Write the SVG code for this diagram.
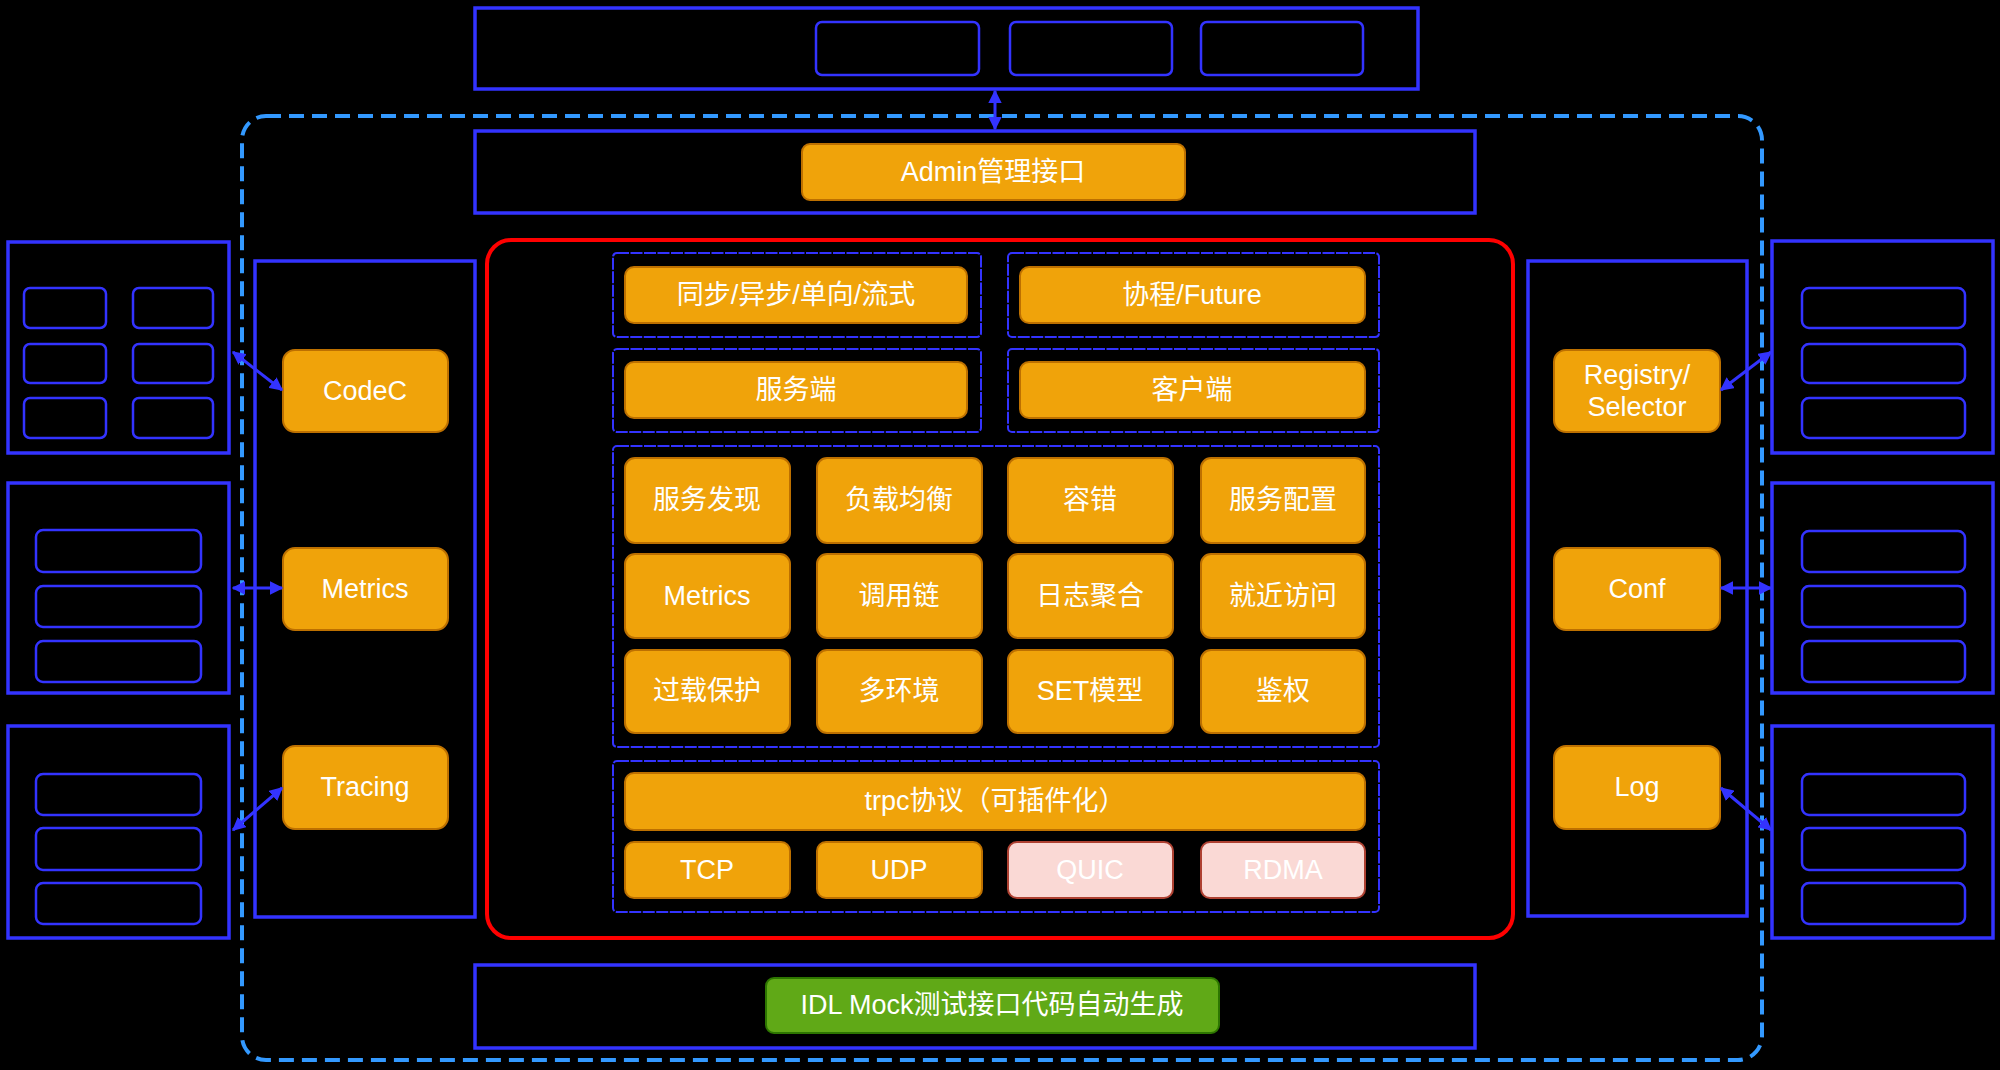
<svg xmlns="http://www.w3.org/2000/svg" width="2000" height="1070" viewBox="0 0 2000 1070">
<style>
.bg{fill:#000}
.blue{fill:none;stroke:#3333ff;stroke-width:3.5}
.inner{fill:none;stroke:#3333ff;stroke-width:2.5}
.grp{fill:none;stroke:#3333ff;stroke-width:2;stroke-dasharray:12 1.5}
.outer{fill:none;stroke:#3399ff;stroke-width:4;stroke-dasharray:15 8}
.red{fill:none;stroke:#ff0000;stroke-width:4}
.or{fill:#f0a30a;stroke:#bd7000;stroke-width:2}
.pk{fill:#fad9d5;stroke:#ae4132;stroke-width:2}
.gr{fill:#60a917;stroke:#2d7600;stroke-width:2}
.t{font-family:"Liberation Sans","Noto Sans CJK SC",sans-serif;font-size:27px;fill:#fff;text-anchor:middle;dominant-baseline:central}
.conn{stroke:#3333ff;stroke-width:3;fill:none;marker-start:url(#ah);marker-end:url(#ah)}
</style>
<defs>
<marker id="ah" viewBox="0 0 10 10" refX="9" refY="5" markerWidth="4.5" markerHeight="4.5" orient="auto-start-reverse" markerUnits="strokeWidth">
<path d="M0,0 L10,5 L0,10 z" fill="#3333ff"/>
</marker>
</defs>
<rect class="bg" x="0" y="0" width="2000" height="1070"/>

<g id="outer-boundary">
<rect class="outer" x="242" y="116" width="1520" height="944" rx="24"/>
</g>

<g id="top-panel">
<rect class="blue" x="475" y="8" width="943" height="81"/>
<rect class="inner" x="816" y="22" width="163" height="53" rx="6"/>
<rect class="inner" x="1010" y="22" width="162" height="53" rx="6"/>
<rect class="inner" x="1201" y="22" width="162" height="53" rx="6"/>
</g>

<g id="admin-row">
<rect class="blue" x="475" y="131" width="1000" height="82"/>
<rect class="or" x="802" y="144" width="383" height="56" rx="8"/>
<text class="t" x="993" y="172">Admin管理接口</text>
</g>

<g id="left-column">
<rect class="blue" x="255" y="261" width="220" height="656"/>
</g>
<g id="node-codec"><rect class="or" x="283" y="350" width="165" height="82" rx="12"/><text class="t" x="365" y="391">CodeC</text></g>
<g id="node-metrics"><rect class="or" x="283" y="548" width="165" height="82" rx="12"/><text class="t" x="365" y="589">Metrics</text></g>
<g id="node-tracing"><rect class="or" x="283" y="746" width="165" height="83" rx="12"/><text class="t" x="365" y="787">Tracing</text></g>

<g id="right-column">
<rect class="blue" x="1528" y="261" width="219" height="655"/>
</g>
<g id="node-registry"><rect class="or" x="1554" y="350" width="166" height="82" rx="12"/><text class="t" x="1637" y="375">Registry/</text><text class="t" x="1637" y="407">Selector</text></g>
<g id="node-conf"><rect class="or" x="1554" y="548" width="166" height="82" rx="12"/><text class="t" x="1637" y="589">Conf</text></g>
<g id="node-log"><rect class="or" x="1554" y="746" width="166" height="83" rx="12"/><text class="t" x="1637" y="787">Log</text></g>

<g id="left-box-1">
<rect class="blue" x="8" y="242" width="221" height="211"/>
<rect class="inner" x="24" y="288" width="82" height="40" rx="6"/>
<rect class="inner" x="133" y="288" width="80" height="40" rx="6"/>
<rect class="inner" x="24" y="344" width="82" height="39" rx="6"/>
<rect class="inner" x="133" y="344" width="80" height="39" rx="6"/>
<rect class="inner" x="24" y="398" width="82" height="40" rx="6"/>
<rect class="inner" x="133" y="398" width="80" height="40" rx="6"/>
</g>
<g id="left-box-2">
<rect class="blue" x="8" y="483" width="221" height="210"/>
<rect class="inner" x="36" y="530" width="165" height="42" rx="7"/>
<rect class="inner" x="36" y="586" width="165" height="41" rx="7"/>
<rect class="inner" x="36" y="641" width="165" height="41" rx="7"/>
</g>
<g id="left-box-3">
<rect class="blue" x="8" y="726" width="221" height="212"/>
<rect class="inner" x="36" y="774" width="165" height="41" rx="7"/>
<rect class="inner" x="36" y="828" width="165" height="42" rx="7"/>
<rect class="inner" x="36" y="883" width="165" height="41" rx="7"/>
</g>

<g id="right-box-1">
<rect class="blue" x="1772" y="241" width="221" height="212"/>
<rect class="inner" x="1802" y="288" width="163" height="40" rx="7"/>
<rect class="inner" x="1802" y="344" width="163" height="39" rx="7"/>
<rect class="inner" x="1802" y="398" width="163" height="40" rx="7"/>
</g>
<g id="right-box-2">
<rect class="blue" x="1772" y="483" width="221" height="210"/>
<rect class="inner" x="1802" y="531" width="163" height="41" rx="7"/>
<rect class="inner" x="1802" y="586" width="163" height="41" rx="7"/>
<rect class="inner" x="1802" y="641" width="163" height="41" rx="7"/>
</g>
<g id="right-box-3">
<rect class="blue" x="1772" y="726" width="221" height="212"/>
<rect class="inner" x="1802" y="774" width="163" height="41" rx="7"/>
<rect class="inner" x="1802" y="828" width="163" height="42" rx="7"/>
<rect class="inner" x="1802" y="883" width="163" height="41" rx="7"/>
</g>

<g id="core">
<rect class="red" x="487" y="240" width="1026" height="698" rx="24"/>
<rect class="grp" x="613" y="253" width="368" height="84" rx="4"/>
<rect class="grp" x="1008" y="253" width="371" height="84" rx="4"/>
<rect class="grp" x="613" y="349" width="368" height="83" rx="4"/>
<rect class="grp" x="1008" y="349" width="371" height="83" rx="4"/>
<rect class="grp" x="613" y="446" width="766" height="301" rx="4"/>
<rect class="grp" x="613" y="761" width="766" height="151" rx="4"/>
</g>

<g id="node-sync"><rect class="or" x="625" y="267" width="342" height="56" rx="9"/><text class="t" x="796" y="295">同步/异步/单向/流式</text></g>
<g id="node-coroutine"><rect class="or" x="1020" y="267" width="345" height="56" rx="9"/><text class="t" x="1192" y="295">协程/Future</text></g>
<g id="node-server"><rect class="or" x="625" y="362" width="342" height="56" rx="9"/><text class="t" x="796" y="390">服务端</text></g>
<g id="node-client"><rect class="or" x="1020" y="362" width="345" height="56" rx="9"/><text class="t" x="1192" y="390">客户端</text></g>

<g id="node-discovery"><rect class="or" x="625" y="458" width="165" height="85" rx="10"/><text class="t" x="707" y="500">服务发现</text></g>
<g id="node-lb"><rect class="or" x="817" y="458" width="165" height="85" rx="10"/><text class="t" x="899" y="500">负载均衡</text></g>
<g id="node-ft"><rect class="or" x="1008" y="458" width="165" height="85" rx="10"/><text class="t" x="1090" y="500">容错</text></g>
<g id="node-svcconf"><rect class="or" x="1201" y="458" width="164" height="85" rx="10"/><text class="t" x="1283" y="500">服务配置</text></g>

<g id="node-metrics2"><rect class="or" x="625" y="554" width="165" height="84" rx="10"/><text class="t" x="707" y="596">Metrics</text></g>
<g id="node-trace"><rect class="or" x="817" y="554" width="165" height="84" rx="10"/><text class="t" x="899" y="596">调用链</text></g>
<g id="node-logagg"><rect class="or" x="1008" y="554" width="165" height="84" rx="10"/><text class="t" x="1090" y="596">日志聚合</text></g>
<g id="node-nearby"><rect class="or" x="1201" y="554" width="164" height="84" rx="10"/><text class="t" x="1283" y="596">就近访问</text></g>

<g id="node-overload"><rect class="or" x="625" y="650" width="165" height="83" rx="10"/><text class="t" x="707" y="691">过载保护</text></g>
<g id="node-multienv"><rect class="or" x="817" y="650" width="165" height="83" rx="10"/><text class="t" x="899" y="691">多环境</text></g>
<g id="node-set"><rect class="or" x="1008" y="650" width="165" height="83" rx="10"/><text class="t" x="1090" y="691">SET模型</text></g>
<g id="node-auth"><rect class="or" x="1201" y="650" width="164" height="83" rx="10"/><text class="t" x="1283" y="691">鉴权</text></g>

<g id="node-trpc"><rect class="or" x="625" y="773" width="740" height="57" rx="9"/><text class="t" x="995" y="801">trpc协议（可插件化）</text></g>
<g id="node-tcp"><rect class="or" x="625" y="842" width="165" height="56" rx="9"/><text class="t" x="707" y="870">TCP</text></g>
<g id="node-udp"><rect class="or" x="817" y="842" width="165" height="56" rx="9"/><text class="t" x="899" y="870">UDP</text></g>
<g id="node-quic"><rect class="pk" x="1008" y="842" width="165" height="56" rx="9"/><text class="t" x="1090" y="870">QUIC</text></g>
<g id="node-rdma"><rect class="pk" x="1201" y="842" width="164" height="56" rx="9"/><text class="t" x="1283" y="870">RDMA</text></g>

<g id="bottom-row">
<rect class="blue" x="475" y="965" width="1000" height="83"/>
<rect class="gr" x="766" y="978" width="453" height="55" rx="8"/>
<text class="t" x="992" y="1005">IDL Mock测试接口代码自动生成</text>
</g>

<g id="connectors">
<line class="conn" x1="995" y1="91" x2="995" y2="129"/>
<line class="conn" x1="233" y1="352" x2="282" y2="390"/>
<line class="conn" x1="233" y1="588" x2="282" y2="588"/>
<line class="conn" x1="233" y1="830" x2="282" y2="788"/>
<line class="conn" x1="1721" y1="390" x2="1771" y2="352"/>
<line class="conn" x1="1721" y1="588" x2="1771" y2="588"/>
<line class="conn" x1="1721" y1="788" x2="1771" y2="830"/>
</g>
</svg>
